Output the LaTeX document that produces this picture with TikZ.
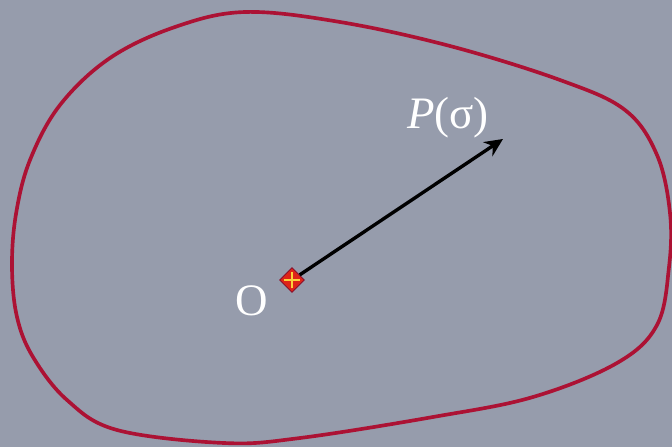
\documentclass[tikz,border=0pt]{standalone}
\usepackage{fontspec}
\setmainfont{Liberation Serif}
\usepackage{xcolor}
\usepackage{tikz}
\usetikzlibrary{shapes.geometric,arrows.meta}
\definecolor{slatebg}{RGB}{150,156,172}
\definecolor{loopred}{RGB}{172,18,52}
\definecolor{markred}{RGB}{222,36,24}
\definecolor{markyellow}{RGB}{250,210,60}

\begin{document}
\begin{tikzpicture}[x=0.025cm, y=-0.025cm,
    region/.style={draw=loopred, line width=2.6pt},
    originmark/.style={diamond, draw=loopred!80!black, fill=markred, line width=0.6pt,
                   minimum size=0.62cm, inner sep=0pt},
    lbl/.style={text=white, font=\fontsize{32}{36}\selectfont, inner sep=0pt},
    vecline/.style={draw=black, line width=2.4pt, -{Stealth[length=13pt, width=12pt]}}]
  % background
  \fill[slatebg] (0,0) rectangle (672,447);
  \useasboundingbox (0,0) rectangle (672,447);
  % closed curve
  \draw[region] plot[smooth cycle, tension=0.6] coordinates {
      (245,12) (340,22) (450,46) (560,80) (625,110) (657,155) (670,213)
      (669,267) (657,325) (617,363) (533,397) (433,417) (300,438)
      (224,443) (117,430) (67,400) (33,357) (17,317) (12,267) (16,214)
      (30,160) (60,105) (110,58) (175,27)};
  % origin and point
  \node[originmark] (O) at (292,280) {};
  \draw[markyellow, line width=1.2pt] ([xshift=-6pt]O.center) -- ([xshift=6pt]O.center)
        ([yshift=-6pt]O.center) -- ([yshift=6pt]O.center);
  \coordinate (P) at (503,139);
  \draw[vecline] (O) -- (P);
  % labels
  \node[lbl] (Olbl) at (252,301) {O};
  \node[lbl] (Plbl) at (448,118) {\textit{P}(σ)};
\end{tikzpicture}
\end{document}
